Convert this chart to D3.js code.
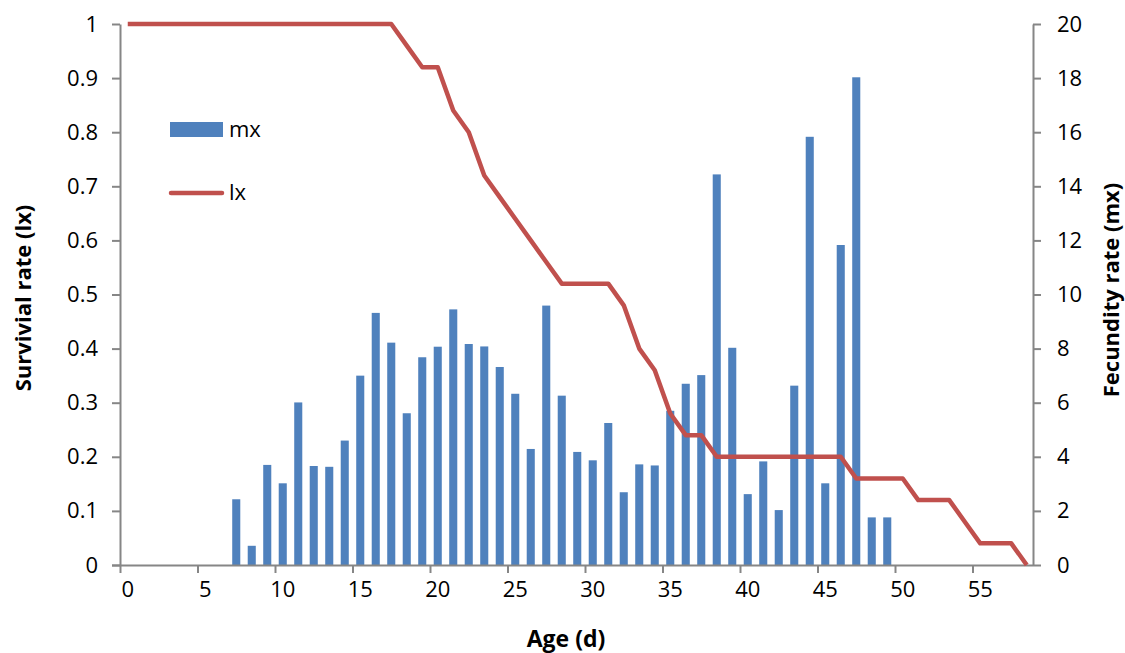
<!DOCTYPE html>
<html>
<head>
<meta charset="utf-8">
<script src="https://cdn.jsdelivr.net/npm/d3@7"></script>
<style>
  html, body { margin: 0; padding: 0; background: #fff; }
  svg { display: block; font-family: "Open Sans", "Liberation Sans", sans-serif; }
  .tick text { fill: #000; }
</style>
</head>
<body>
<svg id="chart" width="1125" height="653"></svg>
<script>
// Age in days (categories 0..58)
const ages = d3.range(0, 59);

// Fecundity (mx) per age, only days 7-49 reproduce
const mxAges = d3.range(7, 50);
const mxValues = [
  2.43, 0.71, 3.70, 3.02, 6.01, 3.66, 3.63, 4.60, 7.00, 9.32,
  8.22, 5.61, 7.68, 8.07, 9.45, 8.17, 8.08, 7.32, 6.33, 4.29,
  9.59, 6.26, 4.18, 3.87, 5.25, 2.69, 3.72, 3.68, 5.70, 6.70,
  7.02, 14.44, 8.03, 2.62, 3.83, 2.03, 6.63, 15.83, 3.02, 11.83,
  18.03, 1.76, 1.76
];

// Survival (lx) per age 0..58
const lxValues = [
  1, 1, 1, 1, 1, 1, 1, 1, 1, 1,
  1, 1, 1, 1, 1, 1, 1, 1, 0.96, 0.92,
  0.92, 0.84, 0.80, 0.72, 0.68, 0.64, 0.60, 0.56, 0.52, 0.52,
  0.52, 0.52, 0.48, 0.40, 0.36, 0.28, 0.24, 0.24, 0.20, 0.20,
  0.20, 0.20, 0.20, 0.20, 0.20, 0.20, 0.20, 0.16, 0.16, 0.16,
  0.16, 0.12, 0.12, 0.12, 0.08, 0.04, 0.04, 0.04, 0
];

const xLabels = ["0", "5", "10", "15", "20", "25", "30", "35", "40", "45", "50", "55"];
const lxTicks = [0, 0.1, 0.2, 0.3, 0.4, 0.5, 0.6, 0.7, 0.8, 0.9, 1];
const mxTicks = [0, 2, 4, 6, 8, 10, 12, 14, 16, 18, 20];

const svg = d3.select("#chart");
const plotLeft = 120, plotRight = 1034.5, plotTop = 24, plotBottom = 565;
const axisColor = "#868686";
const barColor = "#4F81BD";
const lineColor = "#C0504D";

// Category scale: bars centred in each day's slot
const x = d3.scaleBand().domain(ages).range([plotLeft, plotRight])
  .paddingInner(0.48).paddingOuter(0.24);
// Boundary scale for tick marks between categories
const xEdge = d3.scaleLinear().domain([0, ages.length]).range([plotLeft, plotRight]);

const yL = d3.scaleLinear().domain([0, 1]).range([plotBottom, plotTop]);
const yR = d3.scaleLinear().domain([0, 20]).range([plotBottom, plotTop]);

// Bars (mx on right axis)
const mxData = mxAges.map((a, i) => ({ age: a, v: mxValues[i] }));
svg.append("g").selectAll("rect").data(mxData).join("rect")
  .attr("x", d => x(d.age))
  .attr("width", x.bandwidth())
  .attr("y", d => yR(d.v))
  .attr("height", d => yR(0) - yR(d.v))
  .attr("fill", barColor);

// Left axis
const gL = svg.append("g").attr("transform", `translate(${plotLeft},0)`)
  .call(d3.axisLeft(yL).tickValues(lxTicks).tickSize(8).tickSizeOuter(0).tickPadding(14)
    .tickFormat(d => (d === 0 || d === 1) ? String(d) : d.toFixed(1)));
// Right axis
const gR = svg.append("g").attr("transform", `translate(${xEdge(ages.length) - 1.5},0)`)
  .call(d3.axisRight(yR).tickValues(mxTicks).tickSize(8).tickSizeOuter(0).tickPadding(16));

// Bottom axis: marks at category boundaries, labels at category centres
const gXTicks = svg.append("g").attr("transform", `translate(0,${plotBottom})`)
  .call(d3.axisBottom(xEdge).tickValues(d3.range(0, 56, 5)).tickSize(8).tickSizeOuter(0).tickFormat(""));
gXTicks.select(".domain").attr("d", `M${plotLeft - 8},0.5H${xEdge(ages.length) - 1.5}`);
const gXLabels = svg.append("g").attr("transform", `translate(0,${plotBottom})`)
  .call(d3.axisBottom(x).tickValues(d3.range(0, 56, 5)).tickSize(0).tickPadding(16)
    .tickFormat((d, i) => xLabels[i]));
gXLabels.select(".domain").remove();

[gL, gR, gXTicks, gXLabels].forEach(g => {
  g.selectAll(".domain").attr("stroke", axisColor).attr("stroke-width", 2);
  g.selectAll(".tick line").attr("stroke", axisColor).attr("stroke-width", 2);
  g.selectAll(".tick text").attr("font-size", 22).attr("font-family", "'Open Sans', sans-serif");
});

// Survival line (lx on left axis)
const line = d3.line()
  .x((d, i) => x(ages[i]) + x.bandwidth() / 2)
  .y(d => yL(d));
svg.append("path").datum(lxValues)
  .attr("d", line)
  .attr("fill", "none")
  .attr("stroke", lineColor)
  .attr("stroke-width", 4.5)
  .attr("stroke-linejoin", "round");

// Axis titles
svg.append("text").attr("x", 566).attr("y", 647)
  .attr("text-anchor", "middle").attr("font-size", 23).attr("font-weight", "bold")
  .text("Age (d)");
svg.append("text").attr("transform", "translate(31,298) rotate(-90)")
  .attr("text-anchor", "middle").attr("font-size", 22).attr("font-weight", "bold")
  .text("Survivial rate (lx)");
svg.append("text").attr("transform", "translate(1119,290) rotate(-90)")
  .attr("text-anchor", "middle").attr("font-size", 22).attr("font-weight", "bold")
  .text("Fecundity rate (mx)");

// Legend
const legend = svg.append("g");
legend.append("rect").attr("x", 170).attr("y", 122).attr("width", 53).attr("height", 15).attr("fill", barColor);
legend.append("text").attr("x", 229).attr("y", 137).attr("font-size", 22).text("mx");
legend.append("line").attr("x1", 171).attr("x2", 222).attr("y1", 193).attr("y2", 193)
  .attr("stroke", lineColor).attr("stroke-width", 4.5).attr("stroke-linecap", "round");
legend.append("text").attr("x", 229).attr("y", 200).attr("font-size", 22).text("lx");
</script>
</body>
</html>
